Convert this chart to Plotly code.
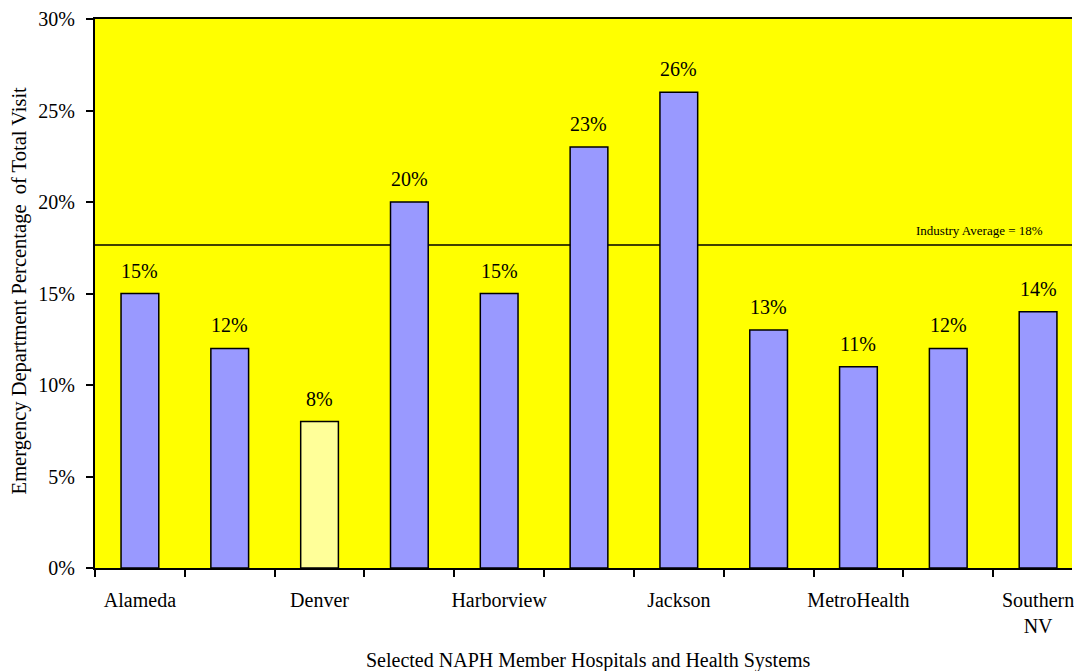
import plotly.graph_objects as go

hospitals = ["Alameda", "Hospital 2", "Denver", "Hospital 4", "Harborview", "Hospital 6",
             "Jackson", "Hospital 8", "MetroHealth", "Hospital 10", "Southern NV"]
tick_labels = ["Alameda", "", "Denver", "", "Harborview", "", "Jackson", "",
               "MetroHealth", "", "Southern<br>NV"]
values = [15, 12, 8, 20, 15, 23, 26, 13, 11, 12, 14]
bar_colors = ["#9999FF", "#9999FF", "#FFFF99", "#9999FF", "#9999FF", "#9999FF",
              "#9999FF", "#9999FF", "#9999FF", "#9999FF", "#9999FF"]
industry_avg = 17.65
industry_label = "Industry Average = 18%"

FONT = "Liberation Serif, Times New Roman, serif"
xs = list(range(len(values)))

fig = go.Figure()
fig.add_trace(go.Bar(
    x=xs, y=values, width=0.42,
    marker=dict(color=bar_colors, line=dict(color="black", width=1.5)),
    hoverinfo="skip", showlegend=False,
))
# boundary tick marks on an overlay axis
fig.add_trace(go.Scatter(x=[-0.5, 10.5], y=[None, None], xaxis="x2", showlegend=False,
                         hoverinfo="skip"))

fig.add_shape(type="line", xref="x", yref="y", x0=-0.5, x1=11, y0=industry_avg, y1=industry_avg,
              line=dict(color="black", width=1.5), layer="below")

annotations = []
for x, v in zip(xs, values):
    annotations.append(dict(x=x, y=v, xref="x", yref="y", text=f"{v}%", showarrow=False,
                            yanchor="bottom", yshift=10, font=dict(family=FONT, size=20, color="black")))
annotations.append(dict(x=9.344, y=industry_avg, xref="x", yref="y", text=industry_label,
                        showarrow=False, yanchor="bottom", yshift=5,
                        font=dict(family=FONT, size=13, color="black")))
annotations.append(dict(x=(len(values) - 1) / 2, y=-0.1676, xref="x", yref="paper",
                        text="Selected NAPH Member Hospitals and Health Systems", showarrow=False,
                        yanchor="middle", font=dict(family=FONT, size=20, color="black")))
annotations.append(dict(x=-0.0776, y=0.506, xref="paper", yref="paper", textangle=-90,
                        text="Emergency Department Percentage  of Total Visit", showarrow=False,
                        xanchor="center", yanchor="middle", font=dict(family=FONT, size=20.5, color="black")))

xr = [-0.5, 10.5 - 11 / 90]
fig.update_layout(
    width=1074, height=671,
    margin=dict(l=95, r=0, t=19, b=103),
    paper_bgcolor="white", plot_bgcolor="#FFFF00",
    font=dict(family=FONT, size=20, color="black"),
    bargap=0.58,
    xaxis=dict(range=xr, tickmode="array", tickvals=xs, ticktext=tick_labels, ticks="",
               showgrid=False, zeroline=False, showline=True, linecolor="black", linewidth=2,
               mirror=True, tickfont=dict(family=FONT, size=20), ticklabelstandoff=13,
               ticklabeloverflow="allow"),
    xaxis2=dict(range=xr, overlaying="x", side="bottom", anchor="y", tickmode="array",
                tickvals=[i - 0.5 for i in range(12)], ticks="outside", ticklen=8, tickwidth=2,
                tickcolor="black", showticklabels=False, showgrid=False, zeroline=False,
                showline=False),
    yaxis=dict(range=[0, 30], tickvals=[0, 5, 10, 15, 20, 25, 30],
               ticktext=["0%", "5%", "10%", "15%", "20%", "25%", "30%"],
               ticks="outside", ticklen=7, tickwidth=2, tickcolor="black",
               showgrid=False, zeroline=False, showline=True, linecolor="black", linewidth=2,
               tickfont=dict(family=FONT, size=20), ticklabelstandoff=7),
    annotations=annotations,
)
fig.write_html("out.html")
